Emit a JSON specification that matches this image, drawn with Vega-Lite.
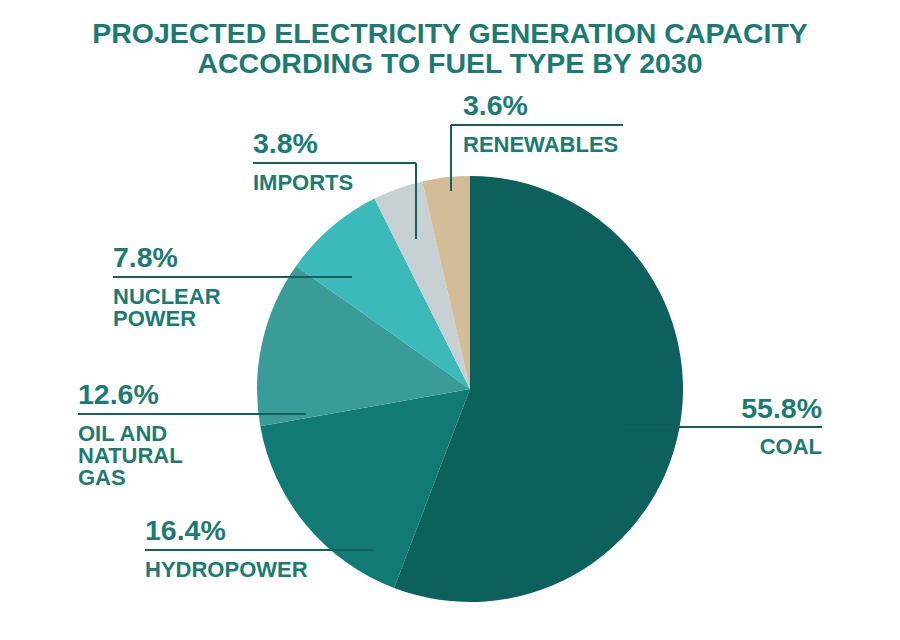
{
  "$schema": "https://vega.github.io/schema/vega-lite/v6.json",
  "width": 860,
  "height": 502,
  "autosize": {"type": "none"},
  "padding": {"left": 40, "top": 138, "right": 0, "bottom": 0},
  "background": "white",
  "title": {
    "text": ["PROJECTED ELECTRICITY GENERATION CAPACITY", "ACCORDING TO FUEL TYPE BY 2030"],
    "font": "Liberation Sans",
    "fontSize": 28.5,
    "fontWeight": "bold",
    "color": "#1b7b72",
    "lineHeight": 30,
    "anchor": "middle",
    "dx": -20,
    "offset": 14
  },
  "data": {
    "values": [
      {"category": "Coal", "value": 55.8, "name": "COAL", "side": "right", "ly": -17.84, "lx1": 72.77, "lx2": 165.26, "tx": 165.26},
      {"category": "Hydropower", "value": 16.4, "name": "HYDROPOWER", "side": "left", "ly": -75.59, "lx1": -152.58, "lx2": -45.54, "tx": -152.58},
      {"category": "Oil and natural gas", "value": 12.6, "name": "OIL AND\nNATURAL\nGAS", "side": "left", "ly": -11.74, "lx1": -184.04, "lx2": -77.0, "tx": -184.04},
      {"category": "Nuclear power", "value": 7.8, "name": "NUCLEAR\nPOWER", "side": "left", "ly": 52.58, "lx1": -167.61, "lx2": -55.4, "tx": -167.61},
      {"category": "Imports", "value": 3.8, "name": "IMPORTS", "side": "left", "ly": 106.1, "lx1": -101.88, "lx2": -25.35, "tx": -101.88, "vx": -25.35, "vy": 70.42},
      {"category": "Renewables", "value": 3.6, "name": "RENEWABLES", "side": "left", "ly": 123.94, "lx1": -8.92, "lx2": 71.83, "tx": -3.29, "vx": -8.92, "vy": 92.96}
    ]
  },
  "transform": [
    {"window": [{"op": "row_number", "as": "idx"}]},
    {"calculate": "format(datum.value, '.1f') + '%'", "as": "pct"}
  ],
  "layer": [
    {
      "mark": {"type": "arc", "outerRadius": 213, "stroke": null},
      "encoding": {
        "theta": {"field": "value", "type": "quantitative", "stack": true},
        "order": {"field": "idx", "type": "quantitative"},
        "color": {
          "field": "category",
          "type": "nominal",
          "scale": {
            "domain": ["Coal", "Hydropower", "Oil and natural gas", "Nuclear power", "Imports", "Renewables"],
            "range": ["#0c615d", "#127a74", "#3a9c98", "#3cb9ba", "#c7d1d3", "#d3bd98"]
          },
          "legend": null
        }
      }
    },
    {
      "mark": {"type": "rule", "stroke": "#175f5a", "strokeWidth": 2},
      "encoding": {
        "x": {"field": "lx1", "type": "quantitative", "scale": {"domain": [-201.878, 201.878], "nice": false, "zero": false}, "axis": null},
        "x2": {"field": "lx2"},
        "y": {"field": "ly", "type": "quantitative", "scale": {"domain": [-117.84, 117.84], "nice": false, "zero": false}, "axis": null}
      }
    },
    {
      "transform": [{"filter": "isValid(datum.vy)"}],
      "mark": {"type": "rule", "stroke": "#175f5a", "strokeWidth": 2},
      "encoding": {
        "x": {"field": "vx", "type": "quantitative"},
        "y": {"field": "vy", "type": "quantitative"},
        "y2": {"field": "ly"}
      }
    },
    {
      "transform": [{"filter": "datum.side == 'left'"}],
      "mark": {"type": "text", "align": "left", "baseline": "alphabetic", "dy": -10, "font": "Liberation Sans", "fontWeight": "bold", "fontSize": 28.5, "color": "#1b7b72"},
      "encoding": {
        "x": {"field": "tx", "type": "quantitative"},
        "y": {"field": "ly", "type": "quantitative"},
        "text": {"field": "pct"}
      }
    },
    {
      "transform": [{"filter": "datum.side == 'left'"}],
      "mark": {"type": "text", "align": "left", "baseline": "alphabetic", "dy": 27, "font": "Liberation Sans", "fontWeight": "bold", "fontSize": 22, "lineHeight": 22, "lineBreak": "\n", "color": "#1b7b72"},
      "encoding": {
        "x": {"field": "tx", "type": "quantitative"},
        "y": {"field": "ly", "type": "quantitative"},
        "text": {"field": "name"}
      }
    },
    {
      "transform": [{"filter": "datum.side == 'right'"}],
      "mark": {"type": "text", "align": "right", "baseline": "alphabetic", "dy": -9, "font": "Liberation Sans", "fontWeight": "bold", "fontSize": 28.5, "color": "#1b7b72"},
      "encoding": {
        "x": {"field": "tx", "type": "quantitative"},
        "y": {"field": "ly", "type": "quantitative"},
        "text": {"field": "pct"}
      }
    },
    {
      "transform": [{"filter": "datum.side == 'right'"}],
      "mark": {"type": "text", "align": "right", "baseline": "alphabetic", "dy": 27, "font": "Liberation Sans", "fontWeight": "bold", "fontSize": 22, "lineHeight": 22, "lineBreak": "\n", "color": "#1b7b72"},
      "encoding": {
        "x": {"field": "tx", "type": "quantitative"},
        "y": {"field": "ly", "type": "quantitative"},
        "text": {"field": "name"}
      }
    }
  ],
  "config": {"view": {"stroke": null}}
}
